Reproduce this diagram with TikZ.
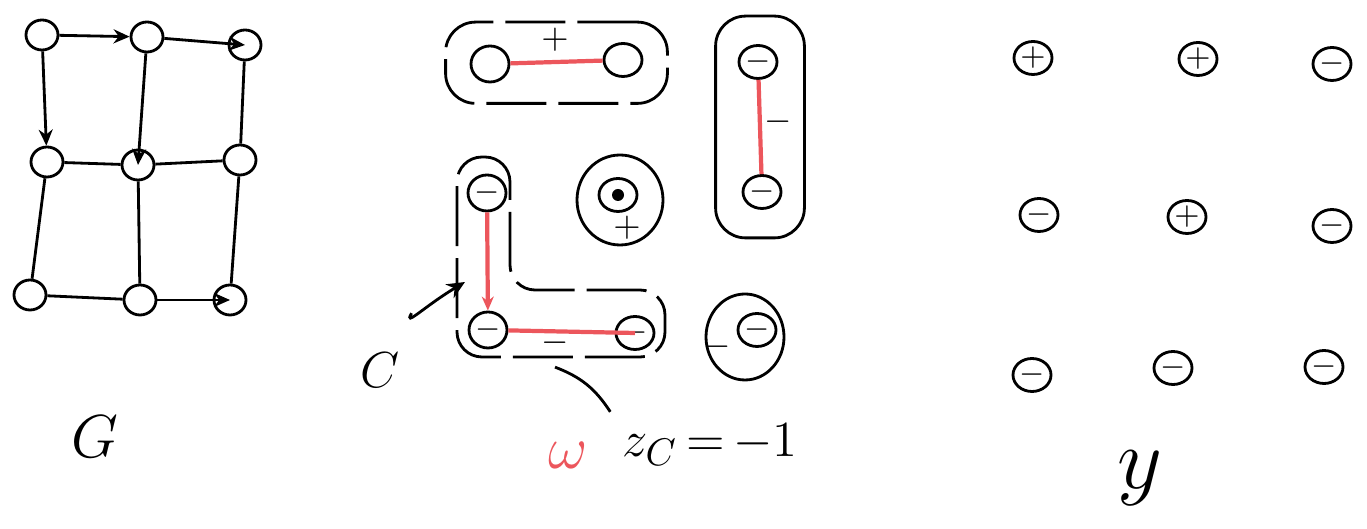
\documentclass[tikz,border=0pt]{standalone}
\definecolor{bondred}{RGB}{236,86,92}
\usepackage{tikz}
\usetikzlibrary{arrows.meta, shapes.geometric, fit, positioning}

\begin{document}
\begin{tikzpicture}[x=0.1mm, y=-0.1mm,
    vtx/.style={draw, thick, ellipse, minimum width=3.2mm,
                minimum height=3mm, inner sep=0pt},
    spin/.style={vtx, minimum width=3.8mm, minimum height=3.3mm,
                 font=\small},
    arr/.style={-{Stealth[length=1.6mm, width=1.4mm]}, thick},
    edge/.style={thick},
    bond/.style={bondred, very thick},
    cluster/.style={draw, thick, rounded corners=3mm},
    gappy/.style={dash pattern=on 6mm off 1.2mm},
    sign/.style={font=\normalsize},
    lbl/.style={font=\fontsize{#1}{#1}\selectfont}
  ]
    \useasboundingbox (0,0) rectangle (1367,529);

    % graph G
    \node[vtx] (g11) at (42,35) {};
    \node[vtx] (g12) at (147,37) {};
    \node[vtx] (g13) at (245,45) {};
    \node[vtx] (g21) at (47,162) {};
    \node[vtx] (g22) at (138,165) {};
    \node[vtx] (g23) at (240,160) {};
    \node[vtx] (g31) at (30,295) {};
    \node[vtx] (g32) at (140,300) {};
    \node[vtx] (g33) at (230,300) {};

    \draw[arr] (g11)--(g12);
    \draw[arr] (g12)--(g13.center);
    \draw[arr] (g11)--(g21);
    \draw[arr] (g12)--(g22.center);
    \draw[edge] (g13)--(g23);
    \draw[edge] (g21)--(g22);
    \draw[edge] (g22)--(g23);
    \draw[edge] (g21)--(g31);
    \draw[edge] (g22)--(g32);
    \draw[edge] (g23)--(g33);
    \draw[edge] (g31)--(g32);
    \draw[arr] (g32)--(g33.center);

    \node[lbl=19] (glbl) at (95,437) {$G$};

    % clustering with bonds omega
    \node[spin, minimum width=3.8mm, minimum height=3.6mm] (m11) at (490,64) {};
    \node[spin] (m12) at (623,60) {};
    \node[spin] (m13) at (758,62) {$-$};
    \node[spin, minimum width=3.8mm, minimum height=3.6mm] (m21) at (487,193) {$-$};
    \node[spin] (m22) at (618,195) {};
    \node[spin] (m23) at (762,192) {$-$};
    \node[spin, minimum width=3.8mm, minimum height=3.6mm] (m31) at (488,330) {$-$};
    \node[spin] (m32) at (635,333) {$-$};
    \node[spin] (m33) at (757,330) {$-$};
    \fill (m22) circle (6);

    \draw[bond] (m11)--(m12);
    \draw[bond] (m13)--(m23);
    \draw[bond, -{Stealth[length=1.4mm, width=1.2mm]}] (m21)--(m31);
    \draw[bond] (m31)--(m32.center);

    \node[cluster, gappy, fit=(m11)(m12), inner xsep=2.4mm, inner ysep=2mm] (c1) {};
    \node[cluster, fit=(m13)(m23), inner xsep=2.2mm, inner ysep=2.8mm] (c2) {};
    \node[draw, thick, ellipse, minimum width=8.6mm, minimum height=9mm] (c3) at (620,200) {};
    \node[draw, thick, ellipse, minimum width=7.8mm, minimum height=8.6mm] (c5) at (745,337) {};
    \draw[thick, gappy, rounded corners=2.5mm]
      (457,157) -- (510,157) -- (510,290) -- (665,290)
      -- (665,357) -- (457,357) -- cycle;

    \node[sign] (p1) at (555,40) {$+$};
    \node[sign] (p2) at (778,122) {$-$};
    \node[sign] (p3) at (627,228) {$+$};
    \node[sign] (p4) at (555,343) {$-$};
    \node[sign] (p5) at (717,347) {$-$};

    \node[lbl=14] (clbl) at (380,370) {$C$};
    \coordinate (cpt) at (465,282);
    \draw[-{Stealth[length=1.8mm, width=1.6mm]}, thick, shorten <=6.5mm]
      (clbl.center) to[bend left=15] (cpt);

    \node[lbl=16, text=bondred] (wlbl) at (568,455) {$\omega$};
    \node[lbl=15] (zlbl) at (710,445) {$z_C\,{=}\,{-}1$};
    \draw[thick] (zlbl.north west) to[bend right=18] (p4.south);

    % labels y
    \node[spin] (y11) at (1033,58) {$+$};
    \node[spin] (y12) at (1198,59) {$+$};
    \node[spin] (y13) at (1332,64) {$-$};
    \node[spin] (y21) at (1039,215) {$-$};
    \node[spin] (y22) at (1187,217) {$+$};
    \node[spin] (y23) at (1332,226) {$-$};
    \node[spin] (y31) at (1032,375) {$-$};
    \node[spin] (y32) at (1173,368) {$-$};
    \node[spin] (y33) at (1324,367) {$-$};

    \node[lbl=25] (ylbl) at (1140,478) {$y$};
  \end{tikzpicture}
\end{document}
